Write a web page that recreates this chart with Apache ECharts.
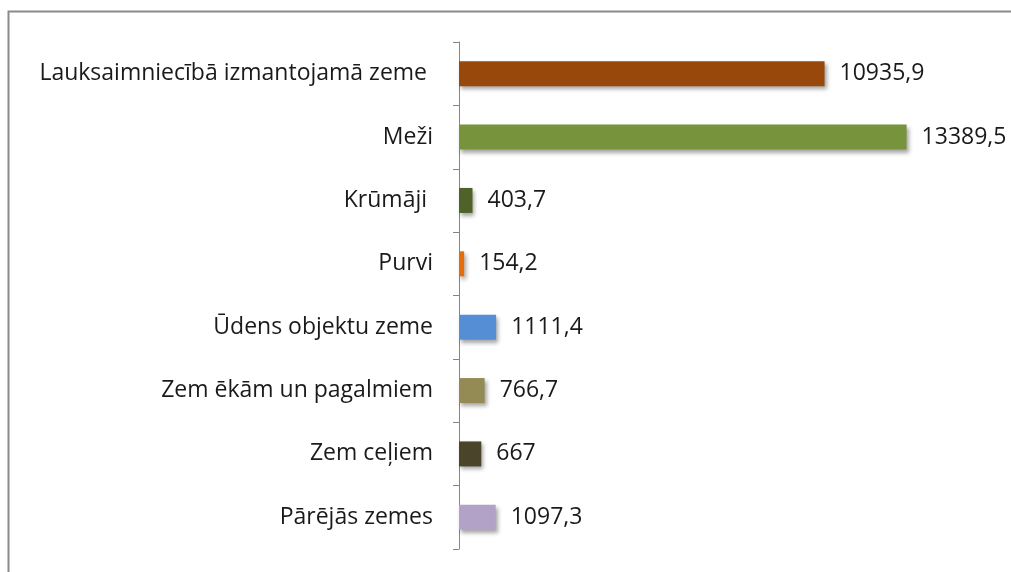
<!DOCTYPE html>
<html>
<head>
<meta charset="utf-8">
<script src="https://cdn.jsdelivr.net/npm/echarts@6/dist/echarts.min.js"></script>
<style>
  html, body { margin: 0; padding: 0; background: #fff; }
  #chart { width: 1011px; height: 572px; }
</style>
</head>
<body>
<div id="chart"></div>
<script>
const categories = [
  'Lauksaimniecībā izmantojamā zeme ',
  'Meži',
  'Krūmāji ',
  'Purvi',
  'Ūdens objektu zeme',
  'Zem ēkām un pagalmiem',
  'Zem ceļiem',
  'Pārējās zemes'
]
const values = [10935.9, 13389.5, 403.7, 154.2, 1111.4, 766.7, 667, 1097.3]
const barColors = ['#98480a', '#77933c', '#4f6228', '#e46c0a', '#558ed5', '#948a54', '#4a452a', '#b3a2c7']

const chart = echarts.init(document.getElementById('chart'))

const textFont = 'Open Sans, Noto Sans, sans-serif'

chart.setOption({
  animation: false,
  graphic: [
    {
      type: 'rect',
      shape: { x: 8.5, y: 11.5, width: 1100, height: 700 },
      style: { fill: 'none', stroke: '#8a8a8a', lineWidth: 2 }
    }
  ],
  grid: {
    left: 459,
    width: 468,
    top: 42,
    bottom: 23
  },
  xAxis: {
    type: 'value',
    min: 0,
    max: 14000,
    show: false
  },
  yAxis: {
    type: 'category',
    data: categories,
    inverse: true,
    axisLine: { lineStyle: { color: '#868686', width: 1 } },
    axisTick: { show: true, length: 6, alignWithLabel: false, lineStyle: { color: '#868686' } },
    axisLabel: {
      color: '#1a1a1a',
      fontSize: 23,
      fontFamily: textFont,
      margin: 26,
      padding: [4, 0, 0, 0]
    }
  },
  series: [
    {
      type: 'bar',
      barWidth: 25,
      data: values.map((v, i) => ({
        value: v,
        itemStyle: { color: barColors[i] }
      })),
      itemStyle: {
        shadowColor: 'rgba(0, 0, 0, 0.35)',
        shadowBlur: 4,
        shadowOffsetX: 2,
        shadowOffsetY: 3
      },
      label: {
        show: true,
        position: 'right',
        distance: 15,
        color: '#1a1a1a',
        fontSize: 23,
        fontFamily: textFont,
        padding: [4, 0, 0, 0],
        formatter: (p) => String(p.value).replace('.', ',')
      }
    }
  ]
})
</script>
</body>
</html>
